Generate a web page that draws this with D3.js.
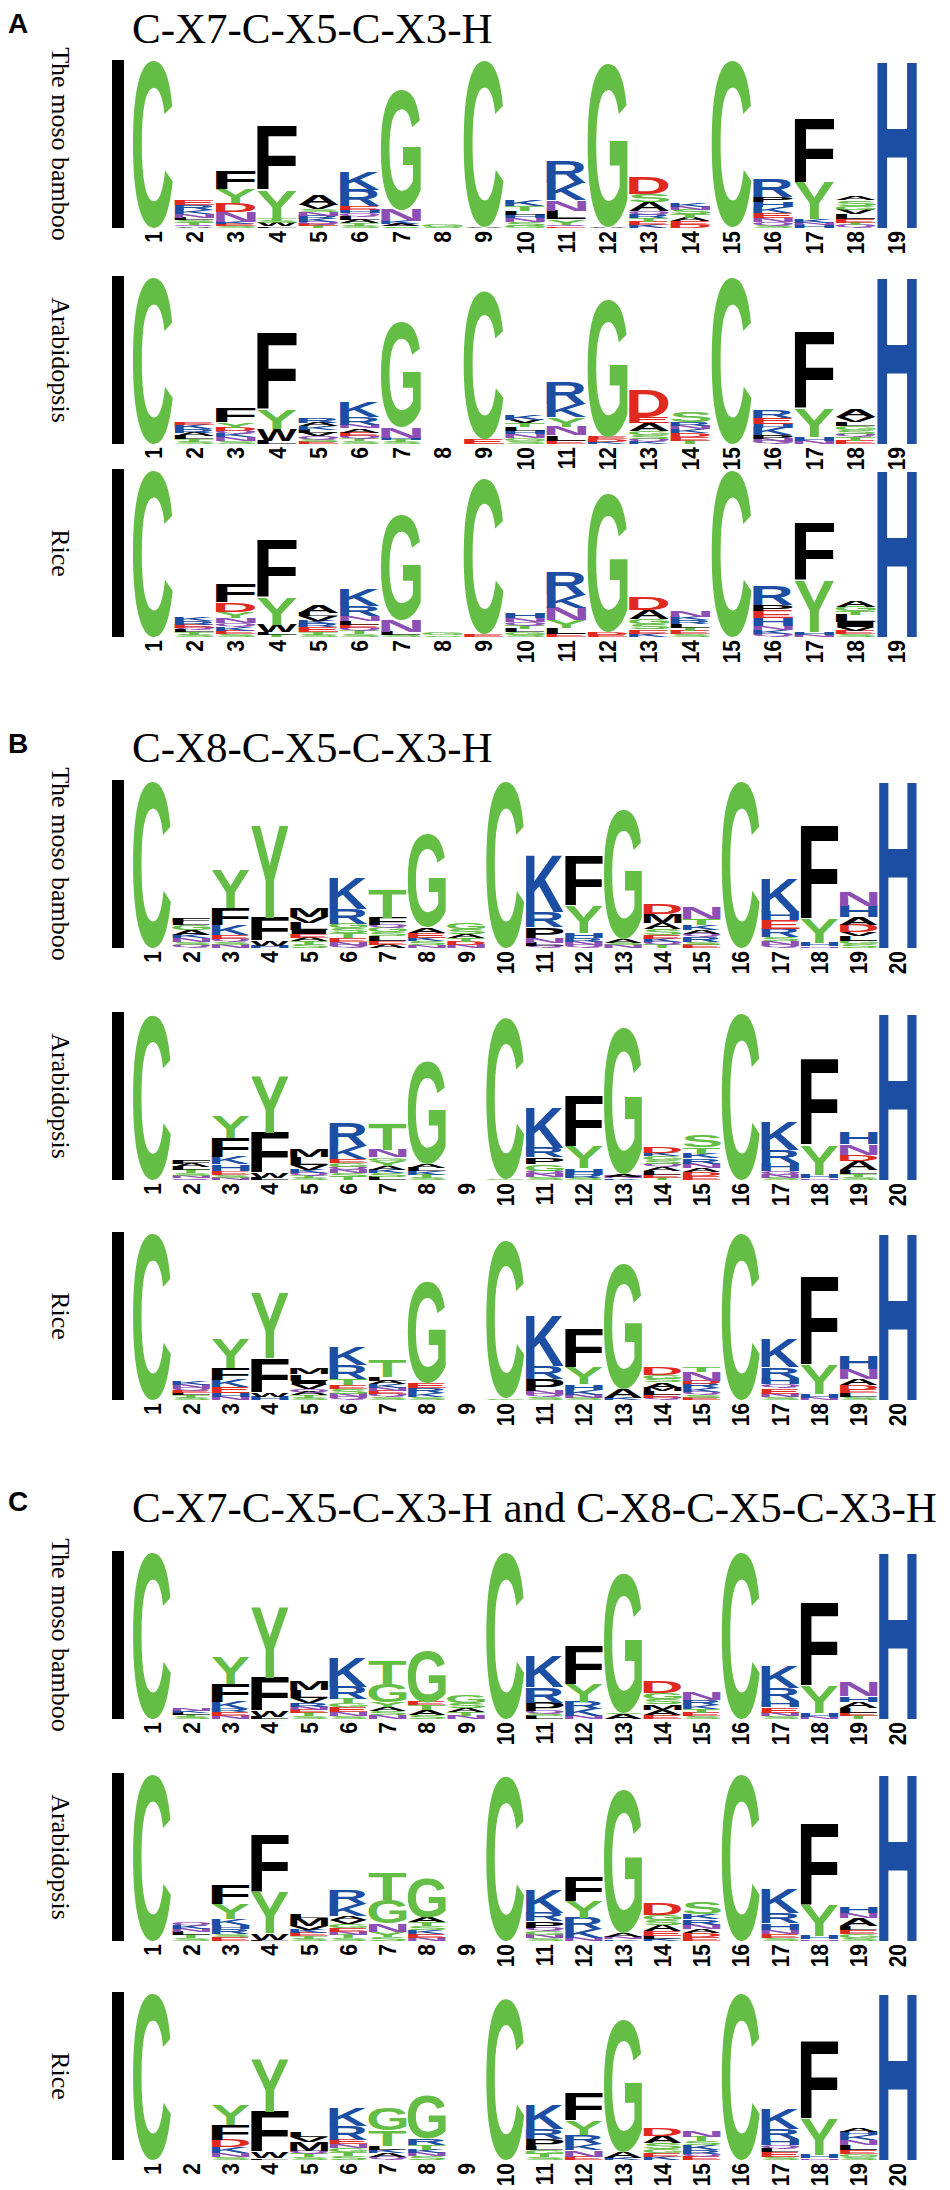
<!DOCTYPE html>
<html>
<head>
<meta charset="utf-8">
<script src="https://cdn.jsdelivr.net/npm/d3@7/dist/d3.min.js"></script>
<style>body{margin:0;background:#fff}</style>
</head>
<body>
<script>
// stacks read bottom -> top, letter + height in hundredths of a bit
const pos19 = [1,2,3,4,5,6,7,8,9,10,11,12,13,14,15,16,17,18,19];
const pos20 = [1,2,3,4,5,6,7,8,9,10,11,12,13,14,15,16,17,18,19,20];
const species = ["The moso bamboo", "Arabidopsis", "Rice"];
const titles = ["C-X7-C-X5-C-X3-H", "C-X8-C-X5-C-X3-H", "C-X7-C-X5-C-X3-H and C-X8-C-X5-C-X3-H"];
const panelLabels = ["A", "B", "C"];

const mosoA = ["C432","A4 Q4 T6 S7 L5 N10 K10 R14 E12","S5 E5 K6 N26 D23 Y35 F48","L4 W8 S6 T6 Y73 F164",
  "T5 E5 Q6 K8 R8 N8 S8 V12 A26","S6 T6 A9 L9 Q8 H8 E10 R42 K45","S4 A6 K8 N30 G307","S3 G5","A2 C428",
  "G6 S10 N10 H8 L10 T12 K17","E4 Q5 Y14 L22 N27 K45 R54","A3 G419","K8 E8 T9 R10 Q9 A23 S20 D43",
  "D8 E9 A8 T10 S12 N8 K10","A1 C428","S7 Q8 N10 E14 K15 H12 P14 R45","H8 N6 K8 Y95 F164",
  "Q7 T7 E9 L12 V12 G10 S14 A11","H432"];
const araA = ["C428","S6 T6 L8 A8 R10 K12 E7","S8 N10 K10 Q6 D8 Y14 F35","L8 W30 Y48 F196",
  "E6 S6 Q8 V8 L8 K10 A8 R12","S8 T6 Q6 E9 A11 N10 R20 K40","S5 T5 H5 N28 G270","","E12 C380",
  "S8 G8 N10 H8 L10 T10 V8 K13","E9 L14 N22 Y24 K33 R57","K6 D6 E6 G352","K7 Q7 S10 G10 A20 E15 D68",
  "T8 E10 D10 K10 N9 R10 S27","C428","Q6 N8 P9 K18 H10 E15 R18","N8 H10 Y73 F197",
  "E8 T10 Q8 S10 G10 L10 V14 A18","H432"];
const riceA = ["C428","S6 T6 L6 Q6 E8 R8 K8","S8 E8 K10 Q10 N14 Y15 D24 F48","T6 L6 W18 Y70 F147",
  "S6 T6 E13 R8 K8 V12 L8 A18","S8 T8 Q8 E8 L10 N12 R26 K43","S6 L8 N29 G270","S4 G5","E6 C400",
  "S6 G6 L8 T10 Q8 N10 H14","E8 L15 Y20 N32 K33 R60","E6 D6 G357","K9 E11 S14 G12 A24 D31",
  "S8 E8 T8 L9 R10 K9 N18","C428","Q8 K10 N10 H20 E18 P16 R50","N6 H7 Y132 F146",
  "S8 E8 V10 I12 L18 T10 G12 A15","H432"];

const mosoB = ["C428","Q7 S8 N10 K8 A13 G12 L9 F9","N8 S8 Q7 E10 K26 F44 Y98","H6 W13 F59 Y237",
  "S9 T9 A8 E9 I11 L18 V17 M24","Q6 N10 E10 T12 S12 G12 R38 K80","A9 E9 L12 S10 G12 Q8 F18 T72",
  "N7 S10 K8 E13 A14 G242","N8 D8 T10 A9 S13 G15","C428","Q6 L8 N12 P27 R40 K146","Q8 N8 R10 H13 Y70 F126",
  "N8 S6 A10 G333","T8 Q8 K8 E10 S15 A16 M23 D25","E8 S8 R12 Q8 A10 K12 T17 N30","C428",
  "Q8 N10 S10 R21 E22 H22 K87","N4 H10 Y61 F240","S9 G9 L12 V10 D19 A21 H28 N35","H432"];
const araB = ["C425","Q5 N6 S7 T8 L8 A8 F8","N6 S8 E9 H18 K18 F49 Y57","L6 W13 F102 Y146",
  "S6 T6 Q6 K8 V12 L21 M21","T8 S10 N8 Q8 G10 E11 K33 R60","L8 S10 K8 A10 Y14 G8 N19 T67",
  "S6 T8 K8 L8 A10 G265","","G3 C415","S8 N8 Q8 G17 P17 R25 K103","S6 R8 H17 Y55 F130","K4 N5 A6 G375",
  "T6 E8 L10 A10 Q8 S10 G10 K8 D15","E10 D10 A10 N12 R14 K12 T16 S30","C428","S6 N8 Q8 H21 R33 K72",
  "N4 H8 Y77 F220","S8 T7 L10 A24 D16 N27 H31","H432"];
const riceB = ["C428","S6 T6 L6 E6 Q6 N8 K9","N8 H10 E15 K19 F30 Y76","H8 W11 F88 Y167",
  "S6 T6 A8 Q8 V12 I10 L17 M18","Q8 N8 S12 E10 T16 R35 K48","S8 Q8 E8 N8 K10 A8 L10 T44",
  "S8 K10 R13 E12 G260","","G4 C402","S8 Q8 N8 P30 R34 K130","S6 N8 K13 H14 Y43 F100","K6 A22 G322",
  "Q6 E8 L8 M10 A14 S9 G10 D20","E6 S8 Q6 K10 R12 D8 N22 T13","C428","S8 N8 E14 Q10 H17 R27 K74",
  "N5 H10 Y75 F226","S8 L10 E8 D12 A16 N25 H32","H432"];

const mosoC = ["C428","S5 T5 L5 K5 N5","N8 E10 R8 K18 F45 Y69","L6 W15 F85 Y180",
  "S8 T8 E8 N8 R10 V12 L20 M24","S8 N10 E12 G10 T12 R31 K75","N10 S10 A10 Y12 G48 T60",
  "S10 A12 T13 E8 G132","N8 T10 A10 S12 G20","C428","L8 S6 Q6 P22 R40 K80","N8 K18 R18 Y45 F99",
  "A12 S4 G360","E10 A14 M14 S14 G16 D30","S8 E8 T10 K10 R12 N20","C428","S8 N8 E14 H17 R32 K58",
  "N5 H10 Y70 F215","T8 E8 L12 A16 H14 N36","H432"];
const araC = ["C428","S8 T8 L8 N8 K8 Q10","E10 S8 R12 H10 K17 Y38 F51","L3 W17 Y104 F147",
  "S6 T6 E8 K8 V10 M21 L8","S8 T8 N8 E10 G10 V10 A10 K30 R35","S10 Y14 N21 G60 T70",
  "N8 E10 K10 S10 T10 A12 G103","","C425","S8 N8 G10 Q8 P17 R22 K60","N8 K22 R30 Y43 F64",
  "K4 N6 A10 G370","K6 L8 E12 A15 S12 G13 D30","E10 D10 A10 N12 R14 K14 S30","C428",
  "S8 E10 N10 H18 R25 K62","N4 H8 Y78 F210","S8 G10 E10 L10 A20 N14 H15","H432"];
const riceC = ["C428","","S8 N10 K15 D18 F40 Y51","L4 W17 F102 Y135","S8 T8 Q8 M22 V12 L13",
  "S10 T10 G10 N10 E12 R35 K46","Q8 A10 K8 L10 T40 G57","S10 N8 K8 T12 R16 G113","","C412",
  "S8 T8 G10 L8 P20 R25 K63","E8 N17 K17 R23 Y36 F70","K5 A17 G340","K8 E10 G10 S15 A19 D21",
  "E8 Q8 R10 K12 S10 T12 N15","C428","S8 E12 L10 Q8 H17 R25 K53","N4 H8 Y92 F200",
  "S8 G8 E10 L12 N14 K12 H8 A11","H432"];

const GREEN = "#64bd45", BLUE = "#1c4fa3", RED = "#e12a1f", PURPLE = "#8d4fb3", BLACK = "#000";
const aaColor = {G:GREEN,S:GREEN,T:GREEN,Y:GREEN,C:GREEN, N:PURPLE,Q:PURPLE, K:BLUE,R:BLUE,H:BLUE,
  D:RED,E:RED, A:BLACK,V:BLACK,L:BLACK,I:BLACK,P:BLACK,W:BLACK,F:BLACK,M:BLACK};

const panels = [
  {rows: [mosoA, araA, riceA], pos: pos19, tops: [60, 276, 469], labelY: 33, titleY: 43},
  {rows: [mosoB, araB, riceB], pos: pos20, tops: [780, 1012, 1232], labelY: 753, titleY: 762},
  {rows: [mosoC, araC, riceC], pos: pos20, tops: [1551, 1773, 1992], labelY: 1511, titleY: 1522}
];

const MAX_BITS = 4.32, LOGO_H = 168, X0 = 133, X1 = 917;
const SANS = "'Liberation Sans', Arial, Helvetica, sans-serif";
const SERIF = "'Liberation Serif', 'Times New Roman', serif";

const svg = d3.select("body").append("svg").attr("width", 950).attr("height", 2190);

// ink box of each glyph, so a letter can be stretched to fill its cell exactly
const ctx = document.createElement("canvas").getContext("2d");
ctx.font = "bold 100px " + SANS;
const inkCache = {};
function ink(ch) {
  if (!inkCache[ch]) {
    const m = ctx.measureText(ch);
    inkCache[ch] = {l: -m.actualBoundingBoxLeft, r: m.actualBoundingBoxRight,
                    t: -m.actualBoundingBoxAscent, b: m.actualBoundingBoxDescent};
  }
  return inkCache[ch];
}
const parse = s => s.split(" ").filter(Boolean).map(t => ({aa: t[0], bits: +t.slice(1) / 100}));

function drawLogo(g, cols, positions, top) {
  const x = d3.scaleBand().domain(positions).range([X0, X1]).paddingInner(0.03);
  const y = d3.scaleLinear().domain([0, MAX_BITS]).range([top + LOGO_H, top]);
  const w = x.bandwidth();

  g.append("rect").attr("x", 112).attr("y", y(MAX_BITS)).attr("width", 12)
    .attr("height", y(0) - y(MAX_BITS)).attr("fill", "#000");

  cols.forEach((col, i) => {
    let cum = 0;
    const stack = parse(col).map(d => { const o = {...d, lo: cum}; cum += d.bits; return o; });
    g.selectAll(null).data(stack).enter().append("text")
      .text(d => d.aa)
      .attr("font-family", SANS).attr("font-weight", "bold").attr("font-size", 100)
      .attr("fill", d => aaColor[d.aa])
      .attr("transform", d => {
        const k = ink(d.aa), y0 = y(d.lo + d.bits), h = y(d.lo) - y0;
        return `translate(${x(positions[i])},${y0}) scale(${w / (k.r - k.l)},${h / (k.b - k.t)}) translate(${-k.l},${-k.t})`;
      });
  });

  // position numbers, rotated, reading upward
  g.selectAll(null).data(positions).enter().append("text")
    .text(d => d)
    .attr("font-family", SANS).attr("font-weight", "bold").attr("font-size", 21)
    .attr("text-anchor", "end")
    .attr("transform", d => `translate(${x(d) + w / 2 + 8.5},${y(0) + 3}) rotate(-90) scale(1,1.12)`);
}

panels.forEach((p, pi) => {
  const g = svg.append("g");
  g.append("text").text(panelLabels[pi]).attr("x", 8).attr("y", p.labelY)
    .attr("font-family", SANS).attr("font-weight", "bold").attr("font-size", 28);
  g.append("text").text(titles[pi]).attr("x", 132).attr("y", p.titleY)
    .attr("font-family", SERIF).attr("font-size", 43);
  p.rows.forEach((cols, ri) => {
    const top = p.tops[ri];
    g.append("text").text(species[ri])
      .attr("font-family", SERIF).attr("font-size", 26).attr("text-anchor", "middle")
      .attr("transform", `translate(52,${top + LOGO_H / 2}) rotate(90)`);
    drawLogo(g.append("g"), cols, p.pos, top);
  });
});
</script>
</body>
</html>
